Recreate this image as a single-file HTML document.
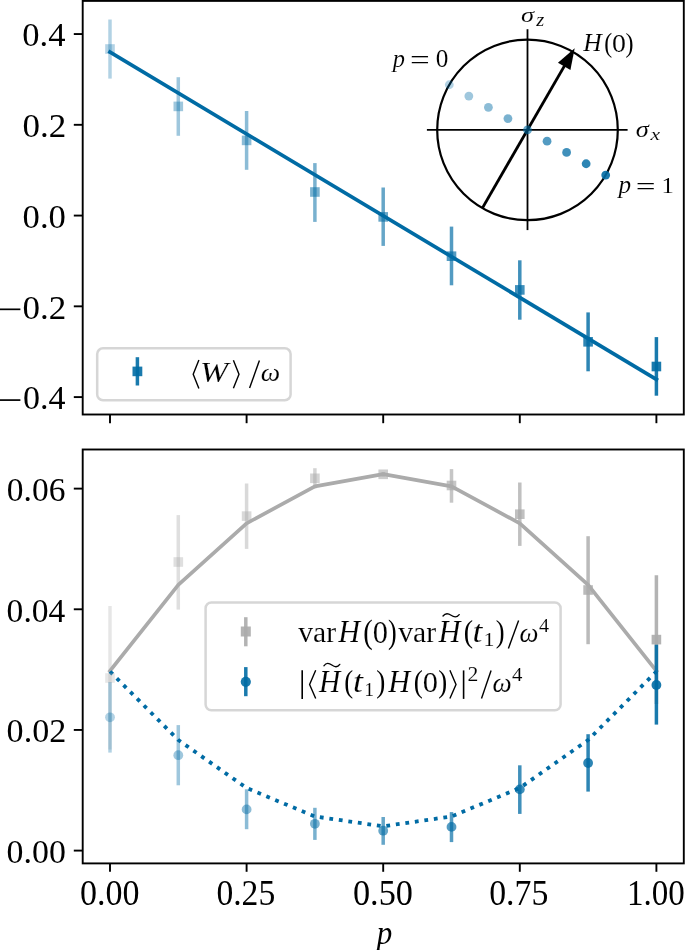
<!DOCTYPE html>
<html><head><meta charset="utf-8"><style>
html,body{margin:0;padding:0;background:#fff;}
svg{display:block;will-change:transform;font-family:"Liberation Serif",serif;}
</style></head><body>
<svg width="685" height="950" viewBox="0 0 685 950">
<rect x="0" y="0" width="685" height="950" fill="#fff"/>
<line x1="110.00" y1="19.50" x2="110.00" y2="78.60" stroke="#006BA4" stroke-width="3.50" stroke-opacity="0.300"/>
<line x1="178.30" y1="77.20" x2="178.30" y2="135.80" stroke="#006BA4" stroke-width="3.50" stroke-opacity="0.375"/>
<line x1="246.60" y1="111.00" x2="246.60" y2="169.80" stroke="#006BA4" stroke-width="3.50" stroke-opacity="0.450"/>
<line x1="314.90" y1="163.10" x2="314.90" y2="221.90" stroke="#006BA4" stroke-width="3.50" stroke-opacity="0.525"/>
<line x1="383.20" y1="187.50" x2="383.20" y2="245.90" stroke="#006BA4" stroke-width="3.50" stroke-opacity="0.600"/>
<line x1="451.50" y1="226.60" x2="451.50" y2="285.30" stroke="#006BA4" stroke-width="3.50" stroke-opacity="0.675"/>
<line x1="519.80" y1="260.30" x2="519.80" y2="319.70" stroke="#006BA4" stroke-width="3.50" stroke-opacity="0.750"/>
<line x1="588.10" y1="312.40" x2="588.10" y2="371.30" stroke="#006BA4" stroke-width="3.50" stroke-opacity="0.825"/>
<line x1="656.40" y1="337.10" x2="656.40" y2="395.70" stroke="#006BA4" stroke-width="3.50" stroke-opacity="0.900"/>
<line x1="110.00" y1="52.10" x2="656.40" y2="379.40" stroke="#006BA4" stroke-width="3.70" stroke-linecap="square"/>
<rect x="105.20" y="44.20" width="9.60" height="9.60" fill="#006BA4" fill-opacity="0.300"/>
<rect x="173.50" y="101.60" width="9.60" height="9.60" fill="#006BA4" fill-opacity="0.375"/>
<rect x="241.80" y="135.60" width="9.60" height="9.60" fill="#006BA4" fill-opacity="0.450"/>
<rect x="310.10" y="187.20" width="9.60" height="9.60" fill="#006BA4" fill-opacity="0.525"/>
<rect x="378.40" y="212.10" width="9.60" height="9.60" fill="#006BA4" fill-opacity="0.600"/>
<rect x="446.70" y="251.40" width="9.60" height="9.60" fill="#006BA4" fill-opacity="0.675"/>
<rect x="515.00" y="285.10" width="9.60" height="9.60" fill="#006BA4" fill-opacity="0.750"/>
<rect x="583.30" y="337.00" width="9.60" height="9.60" fill="#006BA4" fill-opacity="0.825"/>
<rect x="651.60" y="361.70" width="9.60" height="9.60" fill="#006BA4" fill-opacity="0.900"/>
<line x1="426.90" y1="129.90" x2="627.60" y2="129.90" stroke="#000" stroke-width="1.80"/>
<line x1="527.50" y1="29.20" x2="527.50" y2="230.10" stroke="#000" stroke-width="1.80"/>
<circle cx="527.50" cy="129.90" r="90.30" fill="none" stroke="#000" stroke-width="2.2"/>
<line x1="482.35" y1="208.10" x2="565.18" y2="64.63" stroke="#000" stroke-width="2.90"/>
<polygon points="574.68,48.18 570.42,69.97 557.95,62.77" fill="#000"/>
<circle cx="449.30" cy="84.75" r="4.40" fill="#006BA4" fill-opacity="0.300"/>
<circle cx="468.85" cy="96.04" r="4.40" fill="#006BA4" fill-opacity="0.375"/>
<circle cx="488.40" cy="107.33" r="4.40" fill="#006BA4" fill-opacity="0.450"/>
<circle cx="507.95" cy="118.61" r="4.40" fill="#006BA4" fill-opacity="0.525"/>
<circle cx="527.50" cy="129.90" r="4.40" fill="#006BA4" fill-opacity="0.600"/>
<circle cx="547.05" cy="141.19" r="4.40" fill="#006BA4" fill-opacity="0.675"/>
<circle cx="566.60" cy="152.47" r="4.40" fill="#006BA4" fill-opacity="0.750"/>
<circle cx="586.15" cy="163.76" r="4.40" fill="#006BA4" fill-opacity="0.825"/>
<circle cx="605.70" cy="175.05" r="4.40" fill="#006BA4" fill-opacity="0.900"/>
<text transform="translate(520.91 21.70) scale(0.26458 0.20937)" font-size="100" font-style="italic" fill="#000" stroke="#fff" stroke-width="0.422">σ</text>
<text transform="translate(536.13 25.50) scale(0.20661 0.18083)" font-size="100" font-style="italic" fill="#000" stroke="#fff" stroke-width="0.516">z</text>
<text transform="translate(583.37 51.10) scale(0.25584 0.25352)" font-size="100" font-style="italic" fill="#000" stroke="#fff" stroke-width="0.393">H</text>
<text transform="translate(604.36 51.92) scale(0.23751 0.27130)" font-size="100" font-style="normal" fill="#000">(</text>
<text transform="translate(611.94 51.75) scale(0.27841 0.25933)" font-size="100" font-style="normal" fill="#000" stroke="#fff" stroke-width="0.372">0</text>
<text transform="translate(625.42 51.92) scale(0.24140 0.27130)" font-size="100" font-style="normal" fill="#000">)</text>
<text transform="translate(392.73 66.57) scale(0.24417 0.24558)" font-size="100" font-style="italic" fill="#000" stroke="#fff" stroke-width="0.408">p</text>
<text transform="translate(410.06 69.37) scale(0.35029 0.26400)" font-size="100" font-style="normal" fill="#000" stroke="#fff" stroke-width="0.326">=</text>
<text transform="translate(435.64 67.26) scale(0.25246 0.25044)" font-size="100" font-style="normal" fill="#000" stroke="#fff" stroke-width="0.398">0</text>
<text transform="translate(635.81 136.68) scale(0.26458 0.22459)" font-size="100" font-style="italic" fill="#000" stroke="#fff" stroke-width="0.409">σ</text>
<text transform="translate(650.46 139.90) scale(0.21617 0.17212)" font-size="100" font-style="italic" fill="#000" stroke="#fff" stroke-width="0.515">x</text>
<text transform="translate(618.58 192.63) scale(0.25174 0.24266)" font-size="100" font-style="italic" fill="#000" stroke="#fff" stroke-width="0.405">p</text>
<text transform="translate(635.74 194.95) scale(0.35244 0.24400)" font-size="100" font-style="normal" fill="#000" stroke="#fff" stroke-width="0.335">=</text>
<text transform="translate(661.43 193.00) scale(0.24712 0.23934)" font-size="100" font-style="normal" fill="#000" stroke="#fff" stroke-width="0.411">1</text>
<rect x="97.2" y="348.3" width="193.4" height="51.9" rx="5.8" fill="#fff" fill-opacity="0.8" stroke="#cccccc" stroke-opacity="0.8" stroke-width="2.5"/>
<line x1="137.40" y1="357.20" x2="137.40" y2="385.50" stroke="#006BA4" stroke-width="3.50" stroke-opacity="0.9"/>
<rect x="132.5" y="366.6" width="9.8" height="9.6" fill="#006BA4" fill-opacity="0.9"/>
<polyline points="198.90,360.10 193.20,374.30 198.90,388.60" fill="none" stroke="#000" stroke-width="1.40" stroke-linejoin="miter"/>
<text transform="translate(199.97 381.55) scale(0.33817 0.30003)" font-size="100" font-style="italic" fill="#000" stroke="#fff" stroke-width="0.376">W</text>
<polyline points="233.40,360.20 239.00,374.30 233.40,388.30" fill="none" stroke="#000" stroke-width="1.40" stroke-linejoin="miter"/>
<line x1="249.60" y1="388.00" x2="259.40" y2="360.50" stroke="#000" stroke-width="1.40"/>
<text transform="translate(260.79 381.25) scale(0.27508 0.25913)" font-size="100" font-style="italic" fill="#000" stroke="#fff" stroke-width="0.449">ω</text>
<rect x="82.70" y="0.90" width="601.10" height="413.60" fill="none" stroke="#000" stroke-width="1.90"/>
<line x1="73.80" y1="34.05" x2="82.70" y2="34.05" stroke="#000" stroke-width="1.90"/>
<text transform="translate(22.28 46.36) scale(0.34607 0.34452)" font-size="100" font-style="normal" fill="#000">0.4</text>
<line x1="73.80" y1="124.81" x2="82.70" y2="124.81" stroke="#000" stroke-width="1.90"/>
<text transform="translate(22.57 137.12) scale(0.35012 0.34452)" font-size="100" font-style="normal" fill="#000">0.2</text>
<line x1="73.80" y1="215.57" x2="82.70" y2="215.57" stroke="#000" stroke-width="1.90"/>
<text transform="translate(22.58 227.88) scale(0.34673 0.34452)" font-size="100" font-style="normal" fill="#000">0.0</text>
<line x1="73.80" y1="306.33" x2="82.70" y2="306.33" stroke="#000" stroke-width="1.90"/>
<rect x="0" y="308.48" width="20.4" height="1.7" fill="#000"/>
<text transform="translate(22.57 318.64) scale(0.35012 0.34452)" font-size="100" font-style="normal" fill="#000">0.2</text>
<line x1="73.80" y1="397.09" x2="82.70" y2="397.09" stroke="#000" stroke-width="1.90"/>
<rect x="0" y="399.24" width="20.4" height="1.7" fill="#000"/>
<text transform="translate(23.00 409.40) scale(0.34022 0.34452)" font-size="100" font-style="normal" fill="#000">0.4</text>
<line x1="110.00" y1="414.50" x2="110.00" y2="423.20" stroke="#000" stroke-width="1.90"/>
<line x1="246.60" y1="414.50" x2="246.60" y2="423.20" stroke="#000" stroke-width="1.90"/>
<line x1="383.20" y1="414.50" x2="383.20" y2="423.20" stroke="#000" stroke-width="1.90"/>
<line x1="519.80" y1="414.50" x2="519.80" y2="423.20" stroke="#000" stroke-width="1.90"/>
<line x1="656.40" y1="414.50" x2="656.40" y2="423.20" stroke="#000" stroke-width="1.90"/>
<line x1="110.00" y1="606.00" x2="110.00" y2="749.50" stroke="#ABABAB" stroke-width="3.50" stroke-opacity="0.300"/>
<line x1="178.30" y1="515.10" x2="178.30" y2="609.60" stroke="#ABABAB" stroke-width="3.50" stroke-opacity="0.375"/>
<line x1="246.60" y1="483.50" x2="246.60" y2="548.90" stroke="#ABABAB" stroke-width="3.50" stroke-opacity="0.450"/>
<line x1="314.90" y1="468.20" x2="314.90" y2="488.40" stroke="#ABABAB" stroke-width="3.50" stroke-opacity="0.525"/>
<line x1="383.20" y1="472.00" x2="383.20" y2="476.60" stroke="#ABABAB" stroke-width="3.50" stroke-opacity="0.600"/>
<line x1="451.50" y1="469.10" x2="451.50" y2="502.70" stroke="#ABABAB" stroke-width="3.50" stroke-opacity="0.675"/>
<line x1="519.80" y1="482.50" x2="519.80" y2="545.90" stroke="#ABABAB" stroke-width="3.50" stroke-opacity="0.750"/>
<line x1="588.10" y1="536.20" x2="588.10" y2="644.20" stroke="#ABABAB" stroke-width="3.50" stroke-opacity="0.825"/>
<line x1="656.40" y1="575.20" x2="656.40" y2="704.00" stroke="#ABABAB" stroke-width="3.50" stroke-opacity="0.900"/>
<polyline points="110.00,671.00 178.30,584.86 246.60,523.33 314.90,486.41 383.20,474.10 451.50,486.41 519.80,523.33 588.10,584.86 656.40,671.00" fill="none" stroke="#ABABAB" stroke-width="3.70" stroke-linecap="square" stroke-linejoin="round"/>
<line x1="110.00" y1="682.00" x2="110.00" y2="752.60" stroke="#006BA4" stroke-width="3.50" stroke-opacity="0.300"/>
<line x1="178.30" y1="725.10" x2="178.30" y2="785.30" stroke="#006BA4" stroke-width="3.50" stroke-opacity="0.375"/>
<line x1="246.60" y1="789.30" x2="246.60" y2="829.20" stroke="#006BA4" stroke-width="3.50" stroke-opacity="0.450"/>
<line x1="314.90" y1="807.80" x2="314.90" y2="839.90" stroke="#006BA4" stroke-width="3.50" stroke-opacity="0.525"/>
<line x1="383.20" y1="817.00" x2="383.20" y2="844.80" stroke="#006BA4" stroke-width="3.50" stroke-opacity="0.600"/>
<line x1="451.50" y1="812.10" x2="451.50" y2="842.10" stroke="#006BA4" stroke-width="3.50" stroke-opacity="0.675"/>
<line x1="519.80" y1="765.30" x2="519.80" y2="813.90" stroke="#006BA4" stroke-width="3.50" stroke-opacity="0.750"/>
<line x1="588.10" y1="734.20" x2="588.10" y2="791.60" stroke="#006BA4" stroke-width="3.50" stroke-opacity="0.825"/>
<line x1="656.40" y1="644.60" x2="656.40" y2="724.60" stroke="#006BA4" stroke-width="3.50" stroke-opacity="0.900"/>
<polyline points="110.00,671.50 178.30,740.00 246.60,788.00 314.90,816.50 383.20,826.30 451.50,816.50 519.80,788.00 588.10,740.00 656.40,671.50" fill="none" stroke="#006BA4" stroke-width="3.80" stroke-dasharray="3.8 5.8" stroke-linejoin="round"/>
<rect x="105.20" y="673.20" width="9.60" height="9.60" fill="#ABABAB" fill-opacity="0.300"/>
<rect x="173.50" y="557.20" width="9.60" height="9.60" fill="#ABABAB" fill-opacity="0.375"/>
<rect x="241.80" y="511.30" width="9.60" height="9.60" fill="#ABABAB" fill-opacity="0.450"/>
<rect x="310.10" y="473.50" width="9.60" height="9.60" fill="#ABABAB" fill-opacity="0.525"/>
<rect x="378.40" y="469.50" width="9.60" height="9.60" fill="#ABABAB" fill-opacity="0.600"/>
<rect x="446.70" y="480.70" width="9.60" height="9.60" fill="#ABABAB" fill-opacity="0.675"/>
<rect x="515.00" y="509.40" width="9.60" height="9.60" fill="#ABABAB" fill-opacity="0.750"/>
<rect x="583.30" y="585.20" width="9.60" height="9.60" fill="#ABABAB" fill-opacity="0.825"/>
<rect x="651.60" y="634.80" width="9.60" height="9.60" fill="#ABABAB" fill-opacity="0.900"/>
<circle cx="110.00" cy="717.30" r="4.90" fill="#006BA4" fill-opacity="0.300"/>
<circle cx="178.30" cy="755.20" r="4.90" fill="#006BA4" fill-opacity="0.375"/>
<circle cx="246.60" cy="809.40" r="4.90" fill="#006BA4" fill-opacity="0.450"/>
<circle cx="314.90" cy="823.80" r="4.90" fill="#006BA4" fill-opacity="0.525"/>
<circle cx="383.20" cy="830.70" r="4.90" fill="#006BA4" fill-opacity="0.600"/>
<circle cx="451.50" cy="826.90" r="4.90" fill="#006BA4" fill-opacity="0.675"/>
<circle cx="519.80" cy="789.40" r="4.90" fill="#006BA4" fill-opacity="0.750"/>
<circle cx="588.10" cy="763.00" r="4.90" fill="#006BA4" fill-opacity="0.825"/>
<circle cx="656.40" cy="685.00" r="4.90" fill="#006BA4" fill-opacity="0.900"/>
<rect x="205.6" y="602.4" width="355.0" height="107.9" rx="5.8" fill="#fff" fill-opacity="0.8" stroke="#cccccc" stroke-opacity="0.8" stroke-width="2.5"/>
<line x1="245.80" y1="617.20" x2="245.80" y2="646.30" stroke="#ABABAB" stroke-width="3.50" stroke-opacity="0.9"/>
<rect x="240.8" y="626.5" width="10" height="10" fill="#ABABAB" fill-opacity="0.9"/>
<line x1="245.80" y1="667.10" x2="245.80" y2="696.20" stroke="#006BA4" stroke-width="3.50" stroke-opacity="0.9"/>
<circle cx="245.8" cy="681.8" r="5.1" fill="#006BA4" fill-opacity="0.9"/>
<text transform="translate(298.30 642.02) scale(0.29651 0.28901)" font-size="100" font-style="normal" fill="#000" stroke="#fff" stroke-width="0.410">var</text>
<text transform="translate(338.22 642.10) scale(0.30212 0.30850)" font-size="100" font-style="italic" fill="#000" stroke="#fff" stroke-width="0.393">H</text>
<text transform="translate(363.35 642.65) scale(0.28423 0.32644)" font-size="100" font-style="normal" fill="#000">(</text>
<text transform="translate(372.84 642.70) scale(0.30437 0.30824)" font-size="100" font-style="normal" fill="#000" stroke="#fff" stroke-width="0.392">0</text>
<text transform="translate(387.96 642.63) scale(0.26087 0.32755)" font-size="100" font-style="normal" fill="#000">)</text>
<text transform="translate(398.30 641.92) scale(0.29651 0.28693)" font-size="100" font-style="normal" fill="#000" stroke="#fff" stroke-width="0.411">var</text>
<text transform="translate(438.53 641.90) scale(0.30598 0.30697)" font-size="100" font-style="italic" fill="#000" stroke="#fff" stroke-width="0.392">H</text>
<path d="M443.00,615.98 C445.43,612.92 448.18,613.26 451.10,615.30 C454.02,617.34 456.77,617.68 459.20,614.62" fill="none" stroke="#000" stroke-width="1.30" stroke-linecap="round"/>
<text transform="translate(463.77 642.47) scale(0.28033 0.32534)" font-size="100" font-style="normal" fill="#000">(</text>
<text transform="translate(472.54 641.79) scale(0.35446 0.31253)" font-size="100" font-style="italic" fill="#000" stroke="#fff" stroke-width="0.360">t</text>
<text transform="translate(483.38 646.10) scale(0.21872 0.19238)" font-size="100" font-style="normal" fill="#000" stroke="#fff" stroke-width="0.584">1</text>
<text transform="translate(495.75 642.47) scale(0.26476 0.32534)" font-size="100" font-style="normal" fill="#000">)</text>
<line x1="508.40" y1="648.50" x2="518.60" y2="620.60" stroke="#000" stroke-width="1.40"/>
<text transform="translate(519.41 641.64) scale(0.26872 0.26540)" font-size="100" font-style="italic" fill="#000" stroke="#fff" stroke-width="0.449">ω</text>
<text transform="translate(539.01 631.70) scale(0.20222 0.19751)" font-size="100" font-style="normal" fill="#000" stroke="#fff" stroke-width="0.600">4</text>
<line x1="302.20" y1="670.30" x2="302.20" y2="698.90" stroke="#000" stroke-width="1.60"/>
<polyline points="315.70,670.30 309.60,684.60 315.70,698.50" fill="none" stroke="#000" stroke-width="1.40" stroke-linejoin="miter"/>
<text transform="translate(319.12 691.90) scale(0.29569 0.30544)" font-size="100" font-style="italic" fill="#000" stroke="#fff" stroke-width="0.399">H</text>
<path d="M323.90,665.82 C326.28,662.58 328.99,662.94 331.85,665.10 C334.71,667.26 337.42,667.62 339.80,664.38" fill="none" stroke="#000" stroke-width="1.30" stroke-linecap="round"/>
<text transform="translate(344.32 692.11) scale(0.26865 0.31872)" font-size="100" font-style="normal" fill="#000">(</text>
<text transform="translate(353.03 691.59) scale(0.35840 0.31776)" font-size="100" font-style="italic" fill="#000" stroke="#fff" stroke-width="0.355">t</text>
<text transform="translate(364.18 696.30) scale(0.19599 0.19844)" font-size="100" font-style="normal" fill="#000" stroke="#fff" stroke-width="0.608">1</text>
<text transform="translate(376.32 692.11) scale(0.27255 0.31872)" font-size="100" font-style="normal" fill="#000">)</text>
<text transform="translate(388.13 691.90) scale(0.30341 0.30544)" font-size="100" font-style="italic" fill="#000" stroke="#fff" stroke-width="0.394">H</text>
<text transform="translate(413.80 692.11) scale(0.27255 0.31872)" font-size="100" font-style="normal" fill="#000">(</text>
<text transform="translate(422.84 692.40) scale(0.30437 0.30379)" font-size="100" font-style="normal" fill="#000" stroke="#fff" stroke-width="0.395">0</text>
<text transform="translate(438.13 692.11) scale(0.26865 0.31872)" font-size="100" font-style="normal" fill="#000">)</text>
<polyline points="449.90,670.30 456.00,684.60 449.90,698.50" fill="none" stroke="#000" stroke-width="1.40" stroke-linejoin="miter"/>
<line x1="463.60" y1="670.40" x2="463.60" y2="698.90" stroke="#000" stroke-width="1.60"/>
<text transform="translate(467.55 681.20) scale(0.21702 0.19936)" font-size="100" font-style="normal" fill="#000" stroke="#fff" stroke-width="0.576">2</text>
<line x1="481.50" y1="698.40" x2="491.10" y2="670.50" stroke="#000" stroke-width="1.40"/>
<text transform="translate(492.40 691.94) scale(0.27190 0.26958)" font-size="100" font-style="italic" fill="#000" stroke="#fff" stroke-width="0.443">ω</text>
<text transform="translate(511.89 681.20) scale(0.20867 0.19447)" font-size="100" font-style="normal" fill="#000" stroke="#fff" stroke-width="0.595">4</text>
<rect x="82.70" y="449.50" width="601.10" height="413.90" fill="none" stroke="#000" stroke-width="1.90"/>
<line x1="73.80" y1="488.62" x2="82.70" y2="488.62" stroke="#000" stroke-width="1.90"/>
<text transform="translate(6.83 501.03) scale(0.33469 0.34600)" font-size="100" font-style="normal" fill="#000">0.06</text>
<line x1="73.80" y1="609.28" x2="82.70" y2="609.28" stroke="#000" stroke-width="1.90"/>
<text transform="translate(6.62 621.69) scale(0.33544 0.34600)" font-size="100" font-style="normal" fill="#000">0.04</text>
<line x1="73.80" y1="729.94" x2="82.70" y2="729.94" stroke="#000" stroke-width="1.90"/>
<text transform="translate(6.60 742.35) scale(0.34103 0.34600)" font-size="100" font-style="normal" fill="#000">0.02</text>
<line x1="73.80" y1="850.60" x2="82.70" y2="850.60" stroke="#000" stroke-width="1.90"/>
<text transform="translate(6.61 863.01) scale(0.33874 0.34600)" font-size="100" font-style="normal" fill="#000">0.00</text>
<line x1="110.00" y1="863.40" x2="110.00" y2="871.80" stroke="#000" stroke-width="1.90"/>
<text transform="translate(79.90 904.70) scale(0.34054 0.35188)" font-size="100" font-style="normal" fill="#000">0.00</text>
<line x1="246.60" y1="863.40" x2="246.60" y2="871.80" stroke="#000" stroke-width="1.90"/>
<text transform="translate(216.42 904.70) scale(0.33595 0.35188)" font-size="100" font-style="normal" fill="#000">0.25</text>
<line x1="383.20" y1="863.40" x2="383.20" y2="871.80" stroke="#000" stroke-width="1.90"/>
<text transform="translate(353.00 904.70) scale(0.34233 0.35188)" font-size="100" font-style="normal" fill="#000">0.50</text>
<line x1="519.80" y1="863.40" x2="519.80" y2="871.80" stroke="#000" stroke-width="1.90"/>
<text transform="translate(489.21 904.70) scale(0.33775 0.35188)" font-size="100" font-style="normal" fill="#000">0.75</text>
<line x1="656.40" y1="863.40" x2="656.40" y2="871.80" stroke="#000" stroke-width="1.90"/>
<text transform="translate(626.89 904.70) scale(0.33066 0.35188)" font-size="100" font-style="normal" fill="#000">1.00</text>
<text transform="translate(376.82 944.03) scale(0.31042 0.32745)" font-size="100" font-style="italic" fill="#000">p</text>
</svg>
</body></html>
